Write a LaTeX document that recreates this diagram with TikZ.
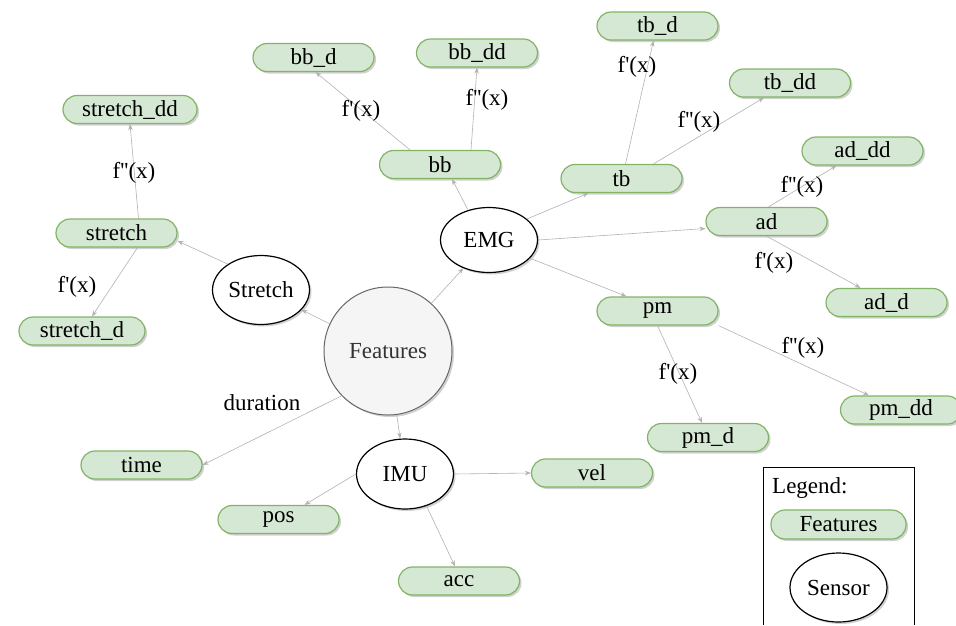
\documentclass[tikz,border=0pt]{standalone}
\usepackage{fontspec}
\setmainfont{Liberation Serif}
\usetikzlibrary{arrows.meta,shapes.geometric,shadows,calc}
\definecolor{featfill}{HTML}{D5E8D4}
\definecolor{featline}{HTML}{82B366}
\definecolor{hubfill}{HTML}{F5F5F5}
\definecolor{hubline}{HTML}{666666}
\definecolor{hubtext}{HTML}{333333}
\tikzset{
    soft shadow/.style={drop shadow={shadow xshift=2pt,shadow yshift=-2pt,opacity=.3,fill=black!60}},
    feature/.style={draw=featline,fill=featfill,line width=1.2pt,rounded corners=14pt,minimum width=121pt,minimum height=28pt,inner sep=0pt,soft shadow},
    sensor/.style={ellipse,draw=black,fill=white,line width=1.2pt,minimum width=97pt,minimum height=66pt,inner sep=0pt,soft shadow},
    hub/.style={circle,draw=hubline,fill=hubfill,text=hubtext,line width=1pt,minimum size=128pt,inner sep=0pt,soft shadow},
    arr/.style={-{Stealth[length=6pt,width=4.5pt]},draw=black!30,line width=.6pt},
    deriv/.style={inner sep=0pt},
}
\tikzstyle{every node}=[font=\fontsize{23}{27}\selectfont]
\newcommand{\dfirst}{f\textquotesingle(x)}
\newcommand{\dsecond}{f\textquotesingle\textquotesingle(x)}

\begin{document}
\begin{tikzpicture}[x=1pt,y=-1pt]
        \useasboundingbox (0,0) rectangle (956,625);
        % centre and sensors
        \node[hub] (features) at (388,351) {Features};
        \node[sensor,minimum height=65pt] (emg) at (489,240) {EMG};
        \node[sensor,minimum height=69pt] (stretchsensor) at (261,290) {Stretch};
        \node[sensor,minimum height=70pt] (imu) at (405,474) {IMU};

        % features
        \node[feature] (bbd) at (313.5,57.5) {bb\_d};
        \node[feature] (bbdd) at (477,53) {bb\_dd};
        \node[feature] (bb) at (440,164.5) {bb};
        \node[feature] (tbd) at (657.5,26) {tb\_d};
        \node[feature] (tbdd) at (790,83) {tb\_dd};
        \node[feature] (tb) at (621.5,178.5) {tb};
        \node[feature] (addd) at (862.5,151) {ad\_dd};
        \node[feature] (ad) at (766.5,221.5) {ad};
        \node[feature] (add) at (886.5,302.5) {ad\_d};
        \node[feature] (pm) at (657.5,311) {pm};
        \node[feature] (pmd) at (708,437.5) {pm\_d};
        \node[feature] (pmdd) at (901,410) {pm\_dd};
        \node[feature,minimum width=134pt] (stretchdd) at (130,109.5) {stretch\_dd};
        \node[feature] (stretch) at (116.5,233) {stretch};
        \node[feature,minimum width=126pt] (stretchd) at (82,331) {stretch\_d};
        \node[feature] (time) at (141.5,465) {time};
        \node[feature] (vel) at (592,473) {vel};
        \node[feature] (pos) at (278.5,519.5) {pos};
        \node[feature] (acc) at (459,581) {acc};

        % connectors
        \draw[arr] (features) -- (emg);
        \draw[arr] (features.155) -- (stretchsensor.334);
        \draw[arr] (features) -- (imu);
        \draw[arr] (features.224) -- (time.east);
        \draw[arr] (emg.125) -- ([xshift=12pt]bb.south);
        \draw[arr] (emg.29) -- ([xshift=-33pt]tb.south);
        \draw[arr] (emg.east) -- ([yshift=-7pt]ad.west);
        \draw[arr] (emg.336) -- ([xshift=-31pt]pm.north);
        \draw[arr] ([xshift=-30pt]bb.north) -- ([xshift=2pt]bbd.south);
        \draw[arr] ([xshift=31pt]bb.north) -- (bbdd.south);
        \draw[arr] ([xshift=4pt]tb.north) -- ([xshift=-4pt]tbd.south);
        \draw[arr] ([xshift=32pt]tb.north) -- ([xshift=-26pt]tbdd.south);
        \draw[arr] ([xshift=2pt]ad.north) -- ([xshift=-26pt]addd.south);
        \draw[arr] (ad.south) -- ([xshift=-26pt]add.north);
        \draw[arr] (pm.south) -- ([xshift=-6pt]pmd.north);
        \draw[arr] (pm.south east) -- ([xshift=-32pt]pmdd.north);
        \draw[arr] ([xshift=22pt]stretch.north) -- (stretchdd.south);
        \draw[arr] ([xshift=21pt]stretch.south) -- ([xshift=10pt]stretchd.north);
        \draw[arr] (stretchsensor.142) -- ([yshift=-8pt]stretch.east);
        \draw[arr] (imu.west) -- ([xshift=26pt]pos.north);
        \draw[arr] (imu.304) -- ([xshift=-4pt]acc.north);
        \draw[arr] (imu.east) -- (vel.west);

        % edge labels
        \node[deriv] (lbbd) at (361,111) {\dfirst};
        \node[deriv] (lbbdd) at (487,100) {\dsecond};
        \node[deriv] (ltbd) at (637,67) {\dfirst};
        \node[deriv] (ltbdd) at (699,122) {\dsecond};
        \node[deriv] (laddd) at (802,187) {\dsecond};
        \node[deriv] (ladd) at (774,263) {\dfirst};
        \node[deriv] (lpmd) at (678,374) {\dfirst};
        \node[deriv] (lpmdd) at (803,348) {\dsecond};
        \node[deriv] (lstretchdd) at (134,173) {\dsecond};
        \node[deriv] (lstretchd) at (77,287) {\dfirst};
        \node[deriv] (ltime) at (262,403) {duration};

        % legend
        \draw[line width=.8pt] (763,625) -- (763,467) -- (914,467) -- (914,625);
        \node[anchor=base west,inner sep=0pt] (legendtitle) at (772,493) {Legend:};
        \node[feature,minimum width=135pt,minimum height=29pt] (legendfeat) at (838.5,524.5) {Features};
        \node[sensor,minimum height=69pt] (legendsensor) at (838.5,587.5) {Sensor};
\end{tikzpicture}
\end{document}
